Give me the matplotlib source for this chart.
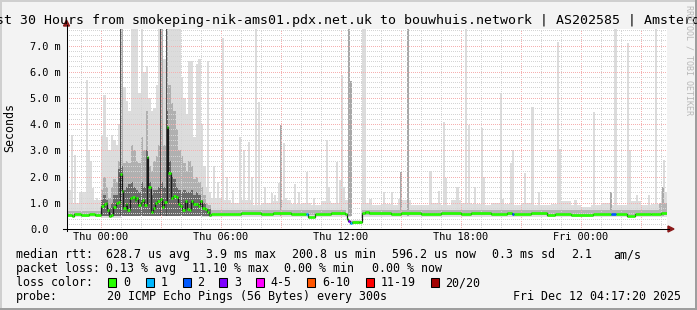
import numpy as np
import matplotlib
matplotlib.use("Agg")
import matplotlib.pyplot as plt
from matplotlib.patches import Rectangle, Polygon
from matplotlib.lines import Line2D

W, H = 697, 310
MONO = "DejaVu Sans Mono"

# time in hours after Thu 00:00, window Wed 22:17:20 .. Fri 04:17:20
t_start, t_end = -1.711, 28.289

title = "Last 30 Hours from smokeping-nik-ams01.pdx.net.uk to bouwhuis.network | AS202585 | Amsterdam"
xtick_h = [0, 6, 12, 18, 24]
xtick_lab = ["Thu 00:00", "Thu 06:00", "Thu 12:00", "Thu 18:00", "Fri 00:00"]
ytick_v = [0, 1, 2, 3, 4, 5, 6, 7]
ytick_lab = ["0.0", "1.0 m", "2.0 m", "3.0 m", "4.0 m", "5.0 m", "6.0 m", "7.0 m"]

# light smoke haze, half hour bins from -2.0 h (values in ms)
haze_hi = [1.5, 1.0, 1.4, 1.1,
           1.5, 1.5, 2.0, 2.0, 2.0, 2.0, 2.0, 2.0, 1.8, 1.5, 1.3, 1.2,
           1.1, 1.0, 1.1, 0.9, 1.0, 1.05, 1.1, 0.95, 1.0, 0.9, 1.05, 1.0, 1.1,
           0.35,
           1.0, 0.9, 0.95, 0.9, 1.1, 0.9, 0.9, 1.0, 0.9, 1.1, 1.0, 0.95, 0.9, 1.0, 0.95, 0.9,
           1.0, 0.9, 0.9, 0.95, 1.05, 0.9, 0.85, 0.9, 1.0, 0.9, 0.9, 1.05, 0.9, 0.95, 1.4, 1.4]
# lower edge of the smoke
low_h = [t_start, 0.0, 1.0, 5.0, 12.5, 13.0]
low_v = [0.45, 0.42, 0.48, 0.45, 0.2, 0.45]
# darker band around the median outside the busy stretch
band_h = [t_start, 0.0, 5.5, 12.25, 13.05, 27.9]
band_lo = [0.52, 0.0, 0.52, 0.2, 0.52, 0.52]
band_hi = [0.7, 0.0, 0.72, 0.32, 0.72, 1.0]

# busy stretch Thu 00:00 - 05:30, 7.5 minute bins
busy_end = 5.5
busy_max = [3.6, 5.1, 3.5, 3.0, 3.6, 3.4, 3.2, 4.0,
            7.7, 5.4, 4.9, 4.5, 7.7, 7.7, 7.7, 5.2,
            7.7, 6.0, 6.2, 5.0, 4.5, 4.6, 5.5, 7.7,
            7.7, 6.5, 7.7, 7.7, 7.7, 7.7, 7.7, 7.7,
            5.8, 5.0, 4.4, 6.4, 6.4, 3.5, 6.3, 6.5,
            4.0, 2.4, 1.6, 1.4]
busy_mid = [1.5, 2.0, 1.6, 1.2, 1.6, 1.9, 1.8, 2.6,
            7.7, 2.5, 2.6, 2.5, 3.2, 3.0, 2.6, 2.5,
            3.5, 3.0, 4.5, 2.4, 2.2, 2.6, 2.8, 3.2,
            7.7, 3.2, 7.7, 5.5, 4.8, 4.5, 3.8, 3.0,
            2.8, 2.5, 2.2, 2.6, 2.4, 1.9, 2.0, 1.8,
            1.6, 1.3, 1.0, 0.9]
busy_dark = [1.1, 1.3, 1.1, 0.8, 1.0, 1.3, 1.3, 2.3,
             2.4, 1.5, 1.6, 1.7, 1.8, 1.6, 1.5, 1.4,
             1.8, 1.6, 3.0, 1.8, 1.3, 1.5, 1.5, 1.6,
             1.8, 1.6, 4.5, 2.6, 2.0, 1.9, 1.6, 1.5,
             1.4, 1.5, 1.4, 1.4, 1.5, 1.3, 1.4, 1.3,
             1.1, 1.0, 0.8, 0.75]

# single light smoke spikes
spike_h = [-1.425, -1.3, -1.05, -0.95, -0.675, -0.575, -0.475, -0.375, -0.2,
           5.35, 5.65, 5.85, 6.1, 6.3, 6.6, 6.95, 7.15, 7.4, 7.55, 7.775, 7.9,
           8.225, 8.55, 8.725, 8.9, 9.15, 9.275, 9.725, 9.925, 10.3, 10.65,
           11.3, 11.425, 11.825, 11.95, 12.05, 12.175, 13.13, 13.23, 13.485,
           14.15, 14.55, 14.9, 16.485, 16.9, 17.15, 17.25, 17.835, 18.25, 18.4,
           18.7, 19.05, 19.15, 20.015, 20.115, 20.525, 20.6, 21.225, 21.585, 21.9,
           22.85, 22.95, 23.735, 24.65, 25.735, 26.36, 26.45, 26.8, 27.4, 27.765, 28.15]
spike_top = [3.59, 2.82, 1.4, 1.35, 5.7, 3.0, 2.6, 1.56, 1.2,
             6.4, 2.4, 1.8, 7.3, 2.0, 1.5, 3.5, 3.0, 3.3, 2.0, 7.7, 4.86,
             1.61, 1.36, 1.3, 1.74, 3.27, 1.18, 1.7, 1.4, 2.19, 1.2,
             3.4, 1.61, 2.55, 1.86, 5.88, 1.6, 7.7, 7.7, 1.15,
             1.4, 1.4, 1.15, 2.2, 1.45, 4.1, 1.93, 1.6, 7.7, 3.97,
             1.6, 3.84, 1.98, 5.18, 1.15, 2.5, 3.0, 2.15, 4.67, 1.4,
             7.15, 3.05, 1.1, 4.48, 7.7, 7.09, 3.0, 1.3, 1.3, 7.7, 2.63]
mid_spike_h = [9.0, 12.4, 12.525, 15.0, 15.35, 25.5, 28.1]
mid_spike_top = [3.97, 7.7, 5.65, 2.19, 7.7, 1.4, 1.6]
dark_spike_h = [1.0, 3.0, 3.3]
dark_spike_top = [7.7, 7.7, 7.7]

# median rtt (ms), step values starting at med_h
med_h = [-1.711, -1.45, -1.35, -1.0, -0.6, -0.3,
         0.03, 0.15, 0.25, 0.33, 0.42, 0.5, 0.62, 0.75, 0.87, 0.97,
         1.05, 1.13, 1.25, 1.33, 1.45, 1.58, 1.7, 1.78, 1.87, 2.0,
         2.08, 2.17, 2.3, 2.38, 2.5, 2.62, 2.72, 2.83, 2.97, 3.08,
         3.17, 3.3, 3.38, 3.5, 3.62, 3.75, 3.87, 3.97, 4.08, 4.22,
         4.3, 4.42, 4.5, 4.62, 4.75, 4.87, 4.97, 5.08, 5.2, 5.33, 5.42, 5.5,
         7.0, 8.0, 8.6, 9.5, 10.25, 10.35, 10.7, 11.5, 12.2, 12.3, 12.38, 12.48, 12.58, 12.9,
         13.05, 13.2, 13.4, 14.5, 15.0, 16.0, 17.0, 18.0, 18.5, 19.5, 20.3, 20.55, 20.65,
         21.5, 22.3, 22.7, 23.5, 24.6, 25.5, 25.75, 26.3, 26.7, 27.5, 28.0]
med_v = [0.55, 0.50, 0.57, 0.55, 0.57, 0.55,
         0.88, 0.95, 1.0, 0.72, 0.5, 0.52, 0.85, 0.98, 1.04, 2.1,
         1.46, 0.79, 0.95, 0.72, 1.17, 1.23, 1.12, 1.17, 0.9, 1.04,
         1.1, 0.9, 2.76, 1.61, 0.66, 0.79, 1.0, 1.08, 1.13, 0.85,
         1.04, 3.88, 2.15, 1.17, 1.27, 1.23, 0.95, 0.89, 0.72, 1.08,
         0.76, 0.72, 1.08, 0.95, 0.95, 0.89, 1.08, 0.82, 0.76, 0.66, 0.53, 0.58,
         0.6, 0.57, 0.6, 0.58, 0.56, 0.47, 0.57, 0.6, 0.58, 0.4, 0.32, 0.24, 0.26, 0.28,
         0.6, 0.65, 0.6, 0.57, 0.6, 0.58, 0.6, 0.58, 0.6, 0.57, 0.6, 0.57, 0.58,
         0.6, 0.53, 0.58, 0.55, 0.58, 0.58, 0.58, 0.5, 0.57, 0.58, 0.62]
# median steps with packet loss (loss colour class)
loss_h = [10.25, 12.38, 12.48, 20.55, 25.5]
loss_cls = [1, 3, 1, 2, 2]

loss_colors = ["#26ff00", "#00b8ff", "#0059ff", "#7e00ff", "#ff00ff", "#ff5500", "#ff0000", "#a10000"]
loss_labels = ["0", "1", "2", "3", "4-5", "6-10", "11-19", "20/20"]

row1 = [("median rtt:", 16), ("628.7 us avg", 107), ("3.9 ms max", 207), ("200.8 us min", 293),
        ("596.2 us now", 393), ("0.3 ms sd", 493), ("2.1", 572), ("am/s", 614)]
row2 = [("packet loss:", 16), ("0.13 % avg", 107), ("11.10 % max", 193), ("0.00 % min", 284),
        ("0.00 % now", 373)]
probe = "20 ICMP Echo Pings (56 Bytes) every 300s"
stamp = "Fri Dec 12 04:17:20 2025"


def fx(x):
    return x / W


def fy(y):
    return 1 - y / H


fig = plt.figure(figsize=(W / 100, H / 100), dpi=100, facecolor="#f3f3f3")
ax = fig.add_axes([fx(66.5), fy(229), 600 / W, 200 / H])
ax.set_facecolor("white")
ax.set_xlim(t_start, t_end)
ax.set_ylim(0, 7.63)
for s in ax.spines.values():
    s.set_visible(False)


def stepfill(x, lo, hi, color, z, end=t_end):
    x = np.append(x, end)
    lo = np.append(lo, np.atleast_1d(lo)[-1]) if np.ndim(lo) else lo
    hi = np.append(hi, hi[-1])
    ax.fill_between(x, lo, hi, step="post", color=color, lw=0, zorder=z)


haze_x = np.arange(-2.0, 29.0, 0.5)
stepfill(haze_x, 0, haze_hi, "#dedede", 1)
busy_x = np.arange(0.0, busy_end, 0.125)
stepfill(busy_x, 0.5, busy_max, "#dcdcdc", 1, busy_end)
ax.bar(spike_h, np.array(spike_top) - 0.5, bottom=0.5, width=0.11, color="#dcdcdc", lw=0, zorder=2)
stepfill(busy_x, 0.5, busy_mid, "#b0b0b0", 3, busy_end)
ax.bar(mid_spike_h, np.array(mid_spike_top) - 0.5, bottom=0.5, width=0.11, color="#a8a8a8", lw=0, zorder=3)
stepfill(busy_x, 0.5, busy_dark, "#6a6a6a", 4, busy_end)
ax.bar(dark_spike_h, np.array(dark_spike_top) - 0.5, bottom=0.5, width=0.07, color="#505050", lw=0, zorder=4)
stepfill(np.array(band_h), np.array(band_lo), band_hi, "#b4b4b4", 4)
stepfill(np.array(low_h), 0, low_v, "white", 5)

# grid
for h in range(-1, 29):
    c = "#f5b0b0" if h % 3 == 0 else "#d4d4d4"
    ax.axvline(h, color=c, lw=0.72, ls=(0, (1, 1.5)), zorder=6, antialiased=False)
for k in range(1, 39):
    c = "#f5b0b0" if k % 5 == 0 else "#d4d4d4"
    ax.axhline(k * 0.2, color=c, lw=0.72, ls=(0, (1, 1.5)), zorder=6, antialiased=False)

# median
ends = med_h[1:] + [t_end]
cols = []
for h in med_h:
    c = loss_colors[0]
    for lh, lc in zip(loss_h, loss_cls):
        if abs(h - lh) < 1e-6:
            c = loss_colors[lc]
    cols.append(c)
ax.step(med_h + [t_end], med_v + [med_v[-1]], where="post", color="#1a1a1a", lw=0.9, zorder=7)
ax.hlines(med_v, med_h, ends, colors=cols, lw=1.9, zorder=8)

# ticks
ax.set_xticks(xtick_h)
ax.set_xticklabels(xtick_lab, family=MONO, fontsize=7.4)
ax.set_yticks(ytick_v)
ax.set_yticklabels(ytick_lab, family=MONO, fontsize=7.4)
ax.tick_params(axis="x", length=0, pad=1.8)
ax.tick_params(axis="y", length=0, pad=26.3)
for lab in ax.get_yticklabels():
    lab.set_horizontalalignment("left")

# axes lines and arrows
fig.add_artist(Line2D([fx(63), fx(669)], [fy(229), fy(229)], color="black", lw=0.75))
fig.add_artist(Line2D([fx(66.5), fx(66.5)], [fy(231), fy(25)], color="black", lw=0.75))
fig.add_artist(Polygon([(fx(668), fy(226)), (fx(668), fy(232)), (fx(674), fy(229))], closed=True, color="#8b1a1a"))
fig.add_artist(Polygon([(fx(63.5), fy(26)), (fx(69.5), fy(26)), (fx(66.5), fy(20))], closed=True, color="#8b1a1a"))

# frame
fig.add_artist(Rectangle((0, fy(2)), 1, 2 / H, color="#cfcfcf", lw=0))
fig.add_artist(Rectangle((0, 0), 2 / W, 1, color="#cfcfcf", lw=0))
fig.add_artist(Rectangle((0, 0), 1, 2 / H, color="#9e9e9e", lw=0))
fig.add_artist(Rectangle((fx(W - 2), 0), 2 / W, 1, color="#9e9e9e", lw=0))

fig.text(fx(348.5), fy(24), title, ha="center", va="baseline", family=MONO, fontsize=9.5)
fig.text(fx(10), fy(127), "Seconds", rotation=90, ha="center", va="center", family=MONO, fontsize=8.4)
fig.text(fx(688.5), fy(5), "RRDTOOL / TOBI OETIKER", rotation=-90, ha="center", va="top",
         family=MONO, fontsize=6, color="#b8b8b8")

for txt, x in row1:
    fig.text(fx(x - 0.5), fy(258.3), txt, va="baseline", family=MONO, fontsize=8.4)
for txt, x in row2:
    fig.text(fx(x - 0.5), fy(272.3), txt, va="baseline", family=MONO, fontsize=8.4)
fig.text(fx(15.5), fy(286.3), "loss color:", va="baseline", family=MONO, fontsize=8.4)
box_x = [108.3, 145.7, 182.7, 219.3, 256, 307.3, 365.7, 430.7]
for bx, c, lab in zip(box_x, loss_colors, loss_labels):
    fig.add_artist(Rectangle((fx(bx), fy(287)), 8 / W, 9 / H, facecolor=c, edgecolor="black", lw=0.75))
    fig.text(fx(bx + 14.5), fy(286.3), lab, va="baseline", family=MONO, fontsize=8.4)
fig.text(fx(15.5), fy(300), "probe:", va="baseline", family=MONO, fontsize=8.4)
fig.text(fx(106.8), fy(300), probe, va="baseline", family=MONO, fontsize=8.4)
fig.text(fx(681), fy(300), stamp, ha="right", va="baseline", family=MONO, fontsize=8.4)

fig.savefig("out.png", dpi=100, facecolor=fig.get_facecolor())
